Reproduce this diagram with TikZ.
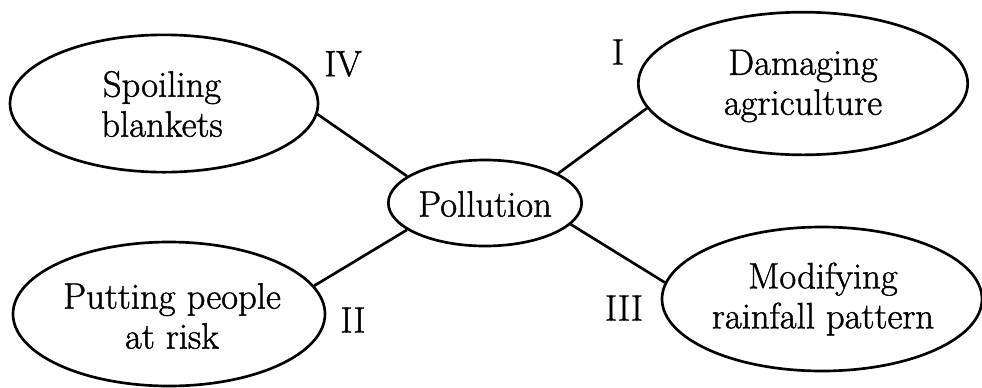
\documentclass[tikz,border=0pt]{standalone}
\usepackage{fontspec}
\setmainfont{Latin Modern Roman}[FakeBold=1.2]
\usetikzlibrary{shapes.geometric}
\begin{document}
\begin{tikzpicture}[x=0.75pt,y=-0.75pt,
  bub/.style={draw, ellipse, line width=2pt, inner sep=0pt},
  txt/.style={align=center, inner sep=0pt, font=\fontsize{27.5}{30}\selectfont},
  lnk/.style={line width=2pt}]
\useasboundingbox (0,0) rectangle (982,387);
% ellipses
\node[bub, minimum width=231pt, minimum height=103pt] (spoil) at (164,103.5) {};
\node[bub, minimum width=247pt, minimum height=107pt] (damag) at (803,83.5) {};
\node[bub, minimum width=234pt, minimum height=108pt] (putt) at (169,314) {};
\node[bub, minimum width=240pt, minimum height=108pt] (modif) at (822,299) {};
\node[bub, minimum width=145pt, minimum height=64.5pt] (poll) at (485,203) {};
% texts
\node[txt] (spoilT) at (162,104) {Spoiling\\blankets};
\node[txt] (damagT) at (803,86) {Damaging\\agriculture};
\node[txt] (puttT) at (172,316) {Putting people\\at risk};
\node[txt] (modifT) at (823,299) {Modifying\\rainfall pattern};
\node[txt] (pollT) at (485,204) {Pollution};
% roman labels
\node[txt] (lIV) at (343,64) {IV};
\node[txt] (lI) at (618,52) {I};
\node[txt] (lII) at (353,320) {II};
\node[txt] (lIII) at (624,308) {III};
% connectors
\draw[lnk] (spoil.-4) -- (poll.161);
\draw[lnk] (damag.189) -- (poll.22);
\draw[lnk] (putt.11) -- (poll.199);
\draw[lnk] (modif.174) -- (poll.-14);
\end{tikzpicture}
\end{document}
